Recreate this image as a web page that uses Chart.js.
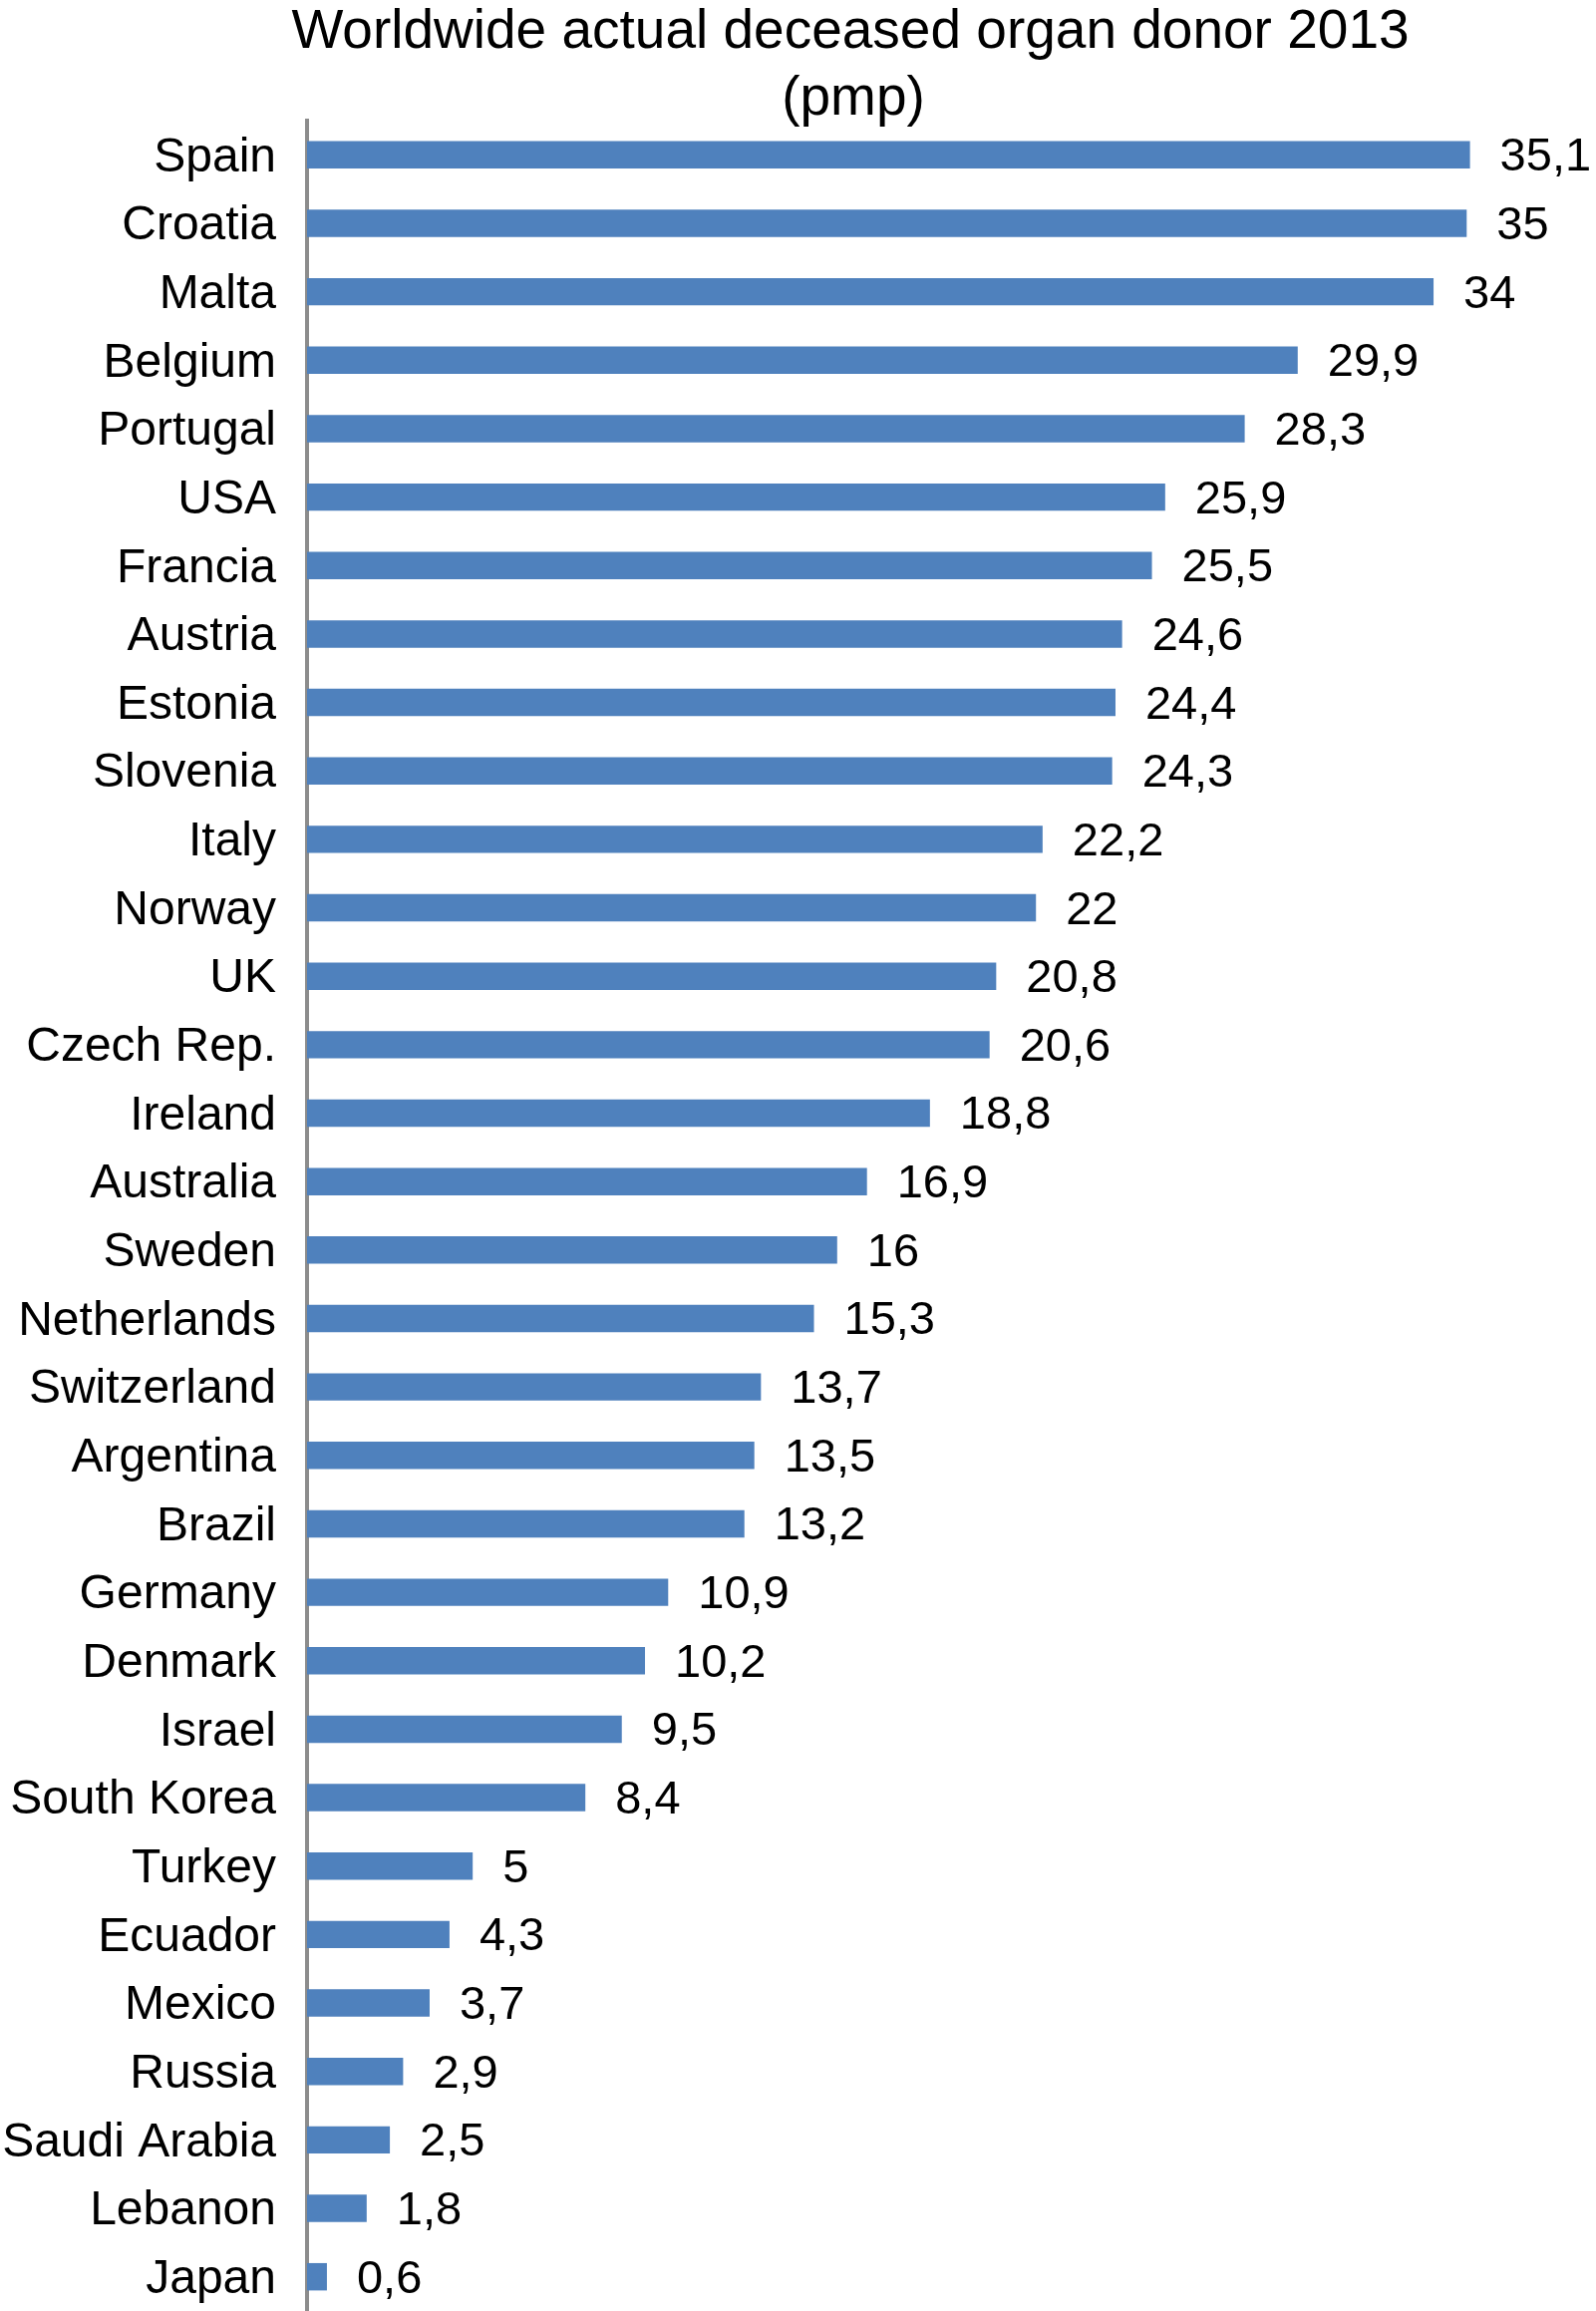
<!DOCTYPE html>
<html>
<head>
<meta charset="utf-8">
<script src="https://cdn.jsdelivr.net/npm/chart.js@4/dist/chart.umd.min.js"></script>
<style>
    html, body { margin: 0; padding: 0; background: #ffffff; }
    #wrap { width: 1601px; height: 2318px; position: relative; }
</style>
</head>
<body>
<div id="wrap"><canvas id="donors"></canvas></div>
<script>
var countries = ['Spain', 'Croatia', 'Malta', 'Belgium', 'Portugal', 'USA', 'Francia', 'Austria',
    'Estonia', 'Slovenia', 'Italy', 'Norway', 'UK', 'Czech Rep.', 'Ireland', 'Australia',
    'Sweden', 'Netherlands', 'Switzerland', 'Argentina', 'Brazil', 'Germany', 'Denmark', 'Israel',
    'South Korea', 'Turkey', 'Ecuador', 'Mexico', 'Russia', 'Saudi Arabia', 'Lebanon', 'Japan'];
var donorsPmp = [35.1, 35, 34, 29.9, 28.3, 25.9, 25.5, 24.6,
    24.4, 24.3, 22.2, 22, 20.8, 20.6, 18.8, 16.9,
    16, 15.3, 13.7, 13.5, 13.2, 10.9, 10.2, 9.5,
    8.4, 5, 4.3, 3.7, 2.9, 2.5, 1.8, 0.6];
var titleLines = ['Worldwide actual deceased organ donor 2013', '(pmp)'];

var FONT = "'Liberation Sans', Arial, Helvetica, sans-serif";

function formatComma(v) {
    return String(v).replace('.', ',');
}

// title and value labels drawn by hand so they sit where the original has them
var labelsPlugin = {
    id: 'labelsPlugin',
    afterDatasetsDraw: function (chart) {
        var ctx = chart.ctx;
        var meta = chart.getDatasetMeta(0);
        ctx.save();
        ctx.fillStyle = '#000000';
        ctx.font = '47px ' + FONT;
        ctx.textAlign = 'left';
        ctx.textBaseline = 'middle';
        meta.data.forEach(function (bar, i) {
            ctx.fillText(formatComma(donorsPmp[i]), bar.x + 30, bar.y + 3);
        });

        ctx.font = '55px ' + FONT;
        ctx.textAlign = 'center';
        ctx.textBaseline = 'alphabetic';
        ctx.fillText(titleLines[0], 853, 48);
        ctx.fillText(titleLines[1], 856, 115);
        ctx.restore();
    }
};

var ctx = document.getElementById('donors').getContext('2d');
var donorChart = new Chart(ctx, {
    type: 'bar',
    data: {
        labels: countries,
        datasets: [{
            data: donorsPmp,
            backgroundColor: '#4F81BD',
            borderWidth: 0,
            categoryPercentage: 1.0,
            barPercentage: 0.4
        }]
    },
    options: {
        indexAxis: 'y',
        responsive: true,
        maintainAspectRatio: false,
        animation: false,
        layout: {
            padding: { top: 121, right: 30, bottom: 0, left: 0 }
        },
        plugins: {
            legend: { display: false },
            tooltip: { enabled: false },
            title: { display: false }
        },
        scales: {
            x: {
                display: false,
                min: 0,
                max: 38
            },
            y: {
                grid: { display: false, drawTicks: false },
                border: { display: true, color: '#8c8c8c', width: 4 },
                ticks: {
                    color: '#000000',
                    padding: 31,
                    labelOffset: 3,
                    font: { family: FONT, size: 48 }
                },
                afterFit: function (scale) {
                    scale.width = 308;
                    scale.paddingTop = 0;
                    scale.paddingBottom = 0;
                }
            }
        }
    },
    plugins: [labelsPlugin]
});
</script>
</body>
</html>
